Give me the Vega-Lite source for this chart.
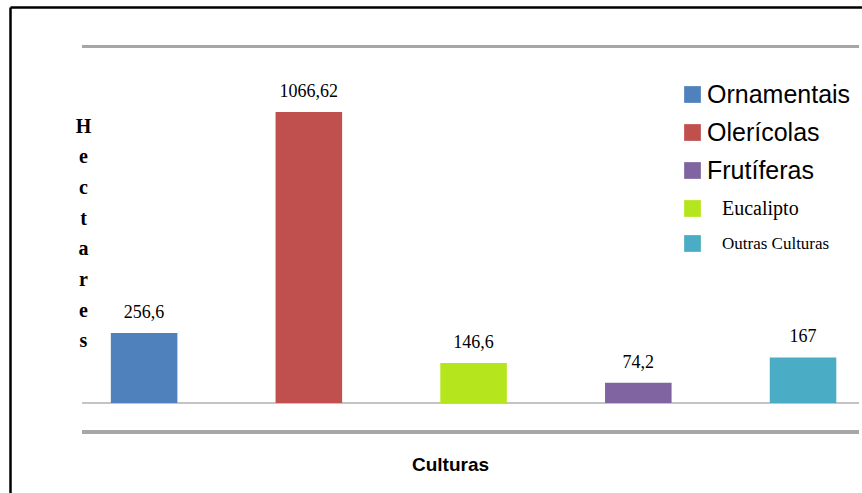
{
  "$schema": "https://vega.github.io/schema/vega-lite/v6.json",
  "autosize": {"type": "none"},
  "padding": {"left": 10, "top": 7, "right": 0, "bottom": 0},
  "width": 852,
  "height": 486,
  "background": "white",
  "config": {"view": {"stroke": null}},
  "data": {"values": [
    {"cultura": "Ornamentais", "hectares": 256.6, "rotulo": "256,6"},
    {"cultura": "Olerícolas", "hectares": 1066.62, "rotulo": "1066,62"},
    {"cultura": "Eucalipto", "hectares": 146.6, "rotulo": "146,6"},
    {"cultura": "Frutíferas", "hectares": 74.2, "rotulo": "74,2"},
    {"cultura": "Outras Culturas", "hectares": 167, "rotulo": "167"}
  ]},
  "encoding": {
    "x": {
      "field": "cultura", "type": "nominal",
      "sort": ["Ornamentais", "Olerícolas", "Eucalipto", "Frutíferas", "Outras Culturas"],
      "scale": {"paddingInner": 0.596, "paddingOuter": 0.384, "align": 0.797},
      "axis": {"orient": "top", "labels": false, "ticks": false, "grid": false,
        "domainColor": "black", "domainWidth": 2.5,
        "title": "Culturas", "titleFont": "Liberation Sans", "titleFontWeight": "bold", "titleFontSize": 19,
        "titleColor": "black", "titleX": 440, "titleY": 463, "titleAlign": "center", "titleBaseline": "alphabetic", "titleAngle": 0}
    },
    "y": {
      "field": "hectares", "type": "quantitative",
      "scale": {"domain": [-329.9, 1451.5], "nice": false, "zero": false},
      "axis": {"orient": "left", "labels": false, "ticks": false, "grid": false,
        "domainColor": "black", "domainWidth": 2.5,
        "title": ["H", "e", "c", "t", "a", "r", "e", "s"],
        "titleFont": "Liberation Serif", "titleFontWeight": "bold", "titleFontSize": 20,
        "titleLineHeight": 30.7, "titleColor": "black", "titleAngle": 0,
        "titleAlign": "center", "titleBaseline": "alphabetic", "titleX": 73, "titleY": 125}
    }
  },
  "layer": [
    {
      "mark": {"type": "rule", "color": "#a6a6a6", "strokeWidth": 3},
      "encoding": {
        "y": {"datum": 1306.7},
        "x": {"datum": "Ornamentais", "bandPosition": -0.432},
        "x2": {"datum": "Outras Culturas", "bandPosition": 1.341}
      }
    },
    {
      "mark": {"type": "rule", "color": "#c4c4c4", "strokeWidth": 2},
      "encoding": {
        "y": {"datum": 0},
        "x": {"datum": "Ornamentais", "bandPosition": -0.432},
        "x2": {"datum": "Outras Culturas", "bandPosition": 1.341}
      }
    },
    {
      "mark": {"type": "rule", "color": "#a6a6a6", "strokeWidth": 3},
      "encoding": {
        "y": {"datum": -106.3},
        "x": {"datum": "Ornamentais", "bandPosition": -0.432},
        "x2": {"datum": "Outras Culturas", "bandPosition": 1.341}
      }
    },
    {
      "mark": {"type": "bar"},
      "encoding": {
        "y2": {"datum": 0},
        "color": {
          "field": "cultura", "type": "nominal",
          "scale": {
            "domain": ["Ornamentais", "Olerícolas", "Frutíferas", "Eucalipto", "Outras Culturas"],
            "range": ["#4f81bd", "#c0504d", "#8064a2", "#b5e61d", "#4bacc6"]
          },
          "legend": {
            "orient": "none", "legendX": 670, "legendY": 75, "title": null,
            "padding": 0, "symbolType": "square", "symbolSize": 280, "symbolStrokeWidth": 0,
            "symbolOpacity": 1, "rowPadding": 12, "labelLimit": 400, "labelColor": "black",
            "labelOffset": {"expr": "datum.label == 'Eucalipto' || datum.label == 'Outras Culturas' ? 17 : 2"},
            "labelFont": {"expr": "datum.label == 'Eucalipto' || datum.label == 'Outras Culturas' ? 'Liberation Serif' : 'Liberation Sans'"},
            "labelFontSize": {"expr": "datum.label == 'Eucalipto' ? 20 : datum.label == 'Outras Culturas' ? 17 : 25"}
          }
        }
      }
    },
    {
      "mark": {"type": "text", "font": "Liberation Serif", "fontSize": 18, "color": "black", "baseline": "alphabetic", "dy": -15},
      "encoding": {"text": {"field": "rotulo"}}
    }
  ]
}
